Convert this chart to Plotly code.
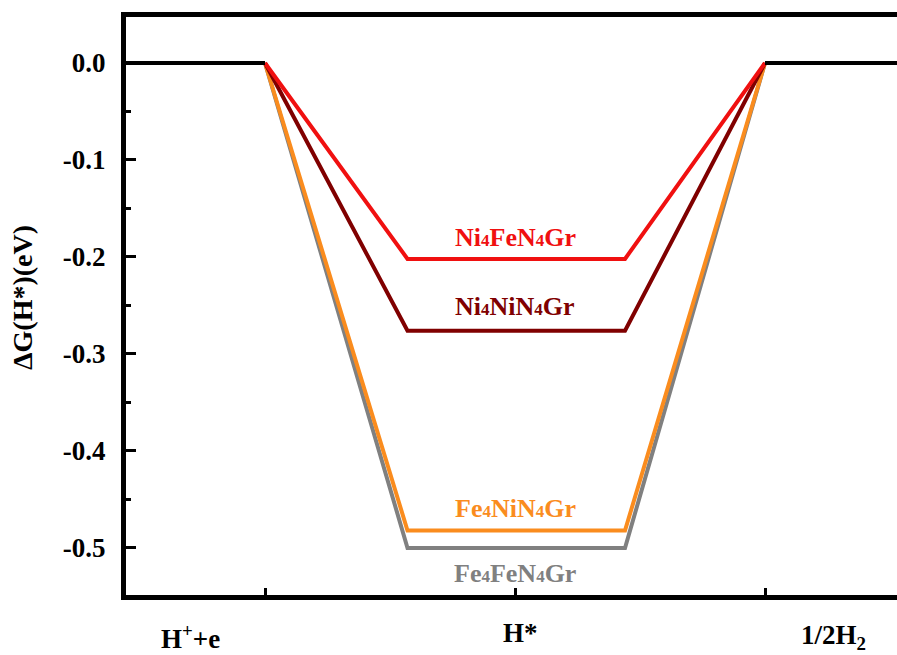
import plotly.graph_objects as go

# Reaction stages (x positions of the ticks) and their labels
stage_pos = [1, 2, 3]
stage_labels = ["H<sup>+</sup>+e", "H*", "1/2H<sub>2</sub>"]

# Free-energy profile x-coordinates: start, plateau begin, plateau end, final
profile_x = [1, 1.57, 2.44, 3]

series_names = ["Fe4FeN4Gr", "Fe4NiN4Gr", "Ni4NiN4Gr", "Ni4FeN4Gr"]
sub4 = "<span style='font-size:17px'>4</span>"
series_labels = [
    "Fe" + sub4 + "FeN" + sub4 + "Gr",
    "Fe" + sub4 + "NiN" + sub4 + "Gr",
    "Ni" + sub4 + "NiN" + sub4 + "Gr",
    "Ni" + sub4 + "FeN" + sub4 + "Gr",
]
dG_H = [-0.500, -0.482, -0.276, -0.202]
colors = ["#808080", "#FA8C1E", "#800000", "#F01010"]
label_y = [-0.526, -0.459, -0.2515, -0.1804]

y_ticks = [0, -0.1, -0.2, -0.3, -0.4, -0.5]
y_ticklabels = ["0.0", "-0.1", "-0.2", "-0.3", "-0.4", "-0.5"]
y_minor = [0.05, -0.05, -0.15, -0.25, -0.35, -0.45, -0.55]

# layout placement of stage label text (data x, paper y)
stage_label_x = [0.70, 2.02, 3.272]
stage_label_y = [-0.072, -0.066, -0.072]

x_min, x_max = 0.444, 3.528
y_min, y_max = -0.5485, 0.0474

fig = go.Figure()

for name, v, c in zip(series_names, dG_H, colors):
    fig.add_trace(go.Scatter(
        x=profile_x, y=[0, v, v, 0], mode="lines",
        line=dict(color=c, width=4), name=name, showlegend=False,
        hoverinfo="skip"))

# initial and final state reference (0 eV)
fig.add_trace(go.Scatter(x=[x_min, stage_pos[0]], y=[0, 0], mode="lines",
                         line=dict(color="black", width=4), showlegend=False))
fig.add_trace(go.Scatter(x=[stage_pos[2], x_max], y=[0, 0], mode="lines",
                         line=dict(color="black", width=4), showlegend=False))

for lab, ly, c in zip(series_labels, label_y, colors):
    fig.add_annotation(x=2, y=ly, text="<b>" + lab + "</b>", showarrow=False,
                       font=dict(family="Liberation Serif", size=26, color=c))

for lab, lx, ly in zip(stage_labels, stage_label_x, stage_label_y):
    fig.add_annotation(x=lx, y=ly, xref="x", yref="paper", text="<b>" + lab + "</b>",
                       showarrow=False, xanchor="center", yanchor="middle",
                       font=dict(family="Liberation Serif", size=27, color="black"))

# y-axis title
fig.add_annotation(xref="paper", yref="paper", x=-0.134, y=0.515,
                   text="<b>ΔG(H*)(eV)</b>", textangle=-90, showarrow=False,
                   xanchor="center", yanchor="middle",
                   font=dict(family="Liberation Serif", size=28, color="black"))

fig.update_layout(
    width=897, height=655,
    margin=dict(l=126, r=0, t=17, b=60, autoexpand=False),
    plot_bgcolor="white", paper_bgcolor="white",
    font=dict(family="Liberation Serif", color="black"),
)
fig.update_xaxes(
    range=[x_min, x_max], tickvals=stage_pos, showticklabels=False,
    showgrid=False, zeroline=False, automargin=False,
    showline=True, linewidth=5, linecolor="black", mirror=True,
    ticks="inside", ticklen=7, tickwidth=3, tickcolor="black",
)
fig.update_yaxes(
    range=[y_min, y_max], tickvals=y_ticks,
    ticktext=["<b>%s</b>" % s for s in y_ticklabels],
    tickfont=dict(size=27, family="Liberation Serif"),
    showgrid=False, zeroline=False, automargin=False,
    showline=True, linewidth=5, linecolor="black",
    ticks="inside", ticklen=10, tickwidth=3, tickcolor="black",
    minor=dict(ticks="inside", ticklen=5, tickwidth=3, tickcolor="black",
               tickvals=y_minor),
    ticklabelstandoff=10,
)

fig.write_html(
    "out.html",
    config={"displayModeBar": False},
    post_script="document.body.style.margin='0';document.body.style.overflow='hidden';",
)
